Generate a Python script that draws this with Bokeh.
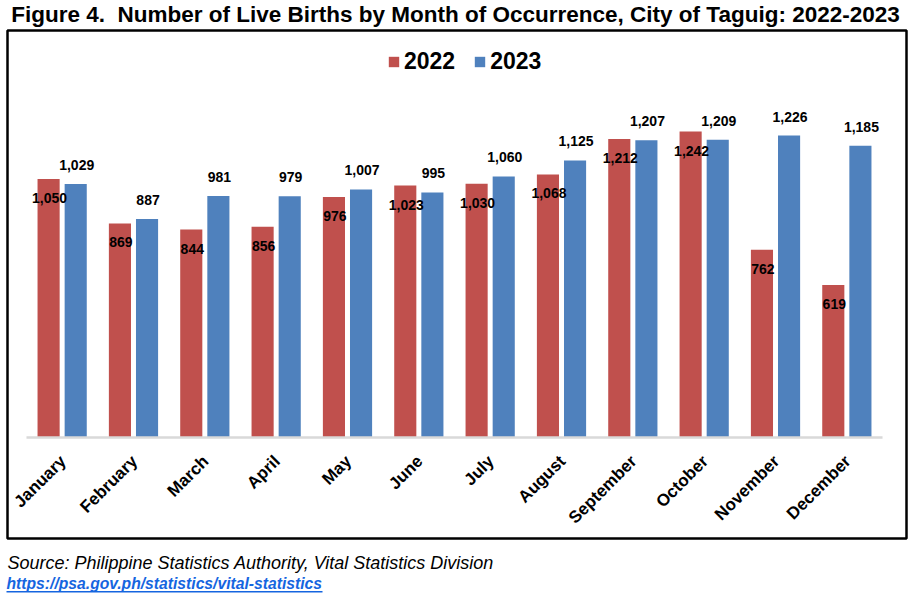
from math import pi
from bokeh.plotting import figure
from bokeh.models import (FactorRange, Range1d, ColumnDataSource, Legend, LegendItem,
                          Label, BoxAnnotation)
from bokeh.transform import dodge
from bokeh.core.properties import value
from bokeh.embed import file_html
from bokeh.resources import INLINE

# ---------------- data ----------------
months = ["January", "February", "March", "April", "May", "June", "July",
          "August", "September", "October", "November", "December"]
births_2022 = [1050, 869, 844, 856, 976, 1023, 1030, 1068, 1212, 1242, 762, 619]
births_2023 = [1029, 887, 981, 979, 1007, 995, 1060, 1125, 1207, 1209, 1226, 1185]
series_names = ["2022", "2023"]
title_text = "Figure 4.\u00a0 Number of Live Births by Month of Occurrence, City of Taguig: 2022-2023"
source_text = "Source: Philippine Statistics Authority, Vital Statistics Division"
link_text = "https://psa.gov.ph/statistics/vital-statistics"

RED = "#C0504D"
BLUE = "#4F81BD"
LINK = "#1565E0"
FONT = "Liberation Sans"

src = ColumnDataSource(dict(
    month=months,
    y2022=births_2022,
    y2023=births_2023,
    l2022=[f"{v:,}" for v in births_2022],
    l2023=[f"{v:,}" for v in births_2023],
    zero=[0] * len(months),
))

W, H = 908, 599
BASE = 437            # pixel row of the value axis zero
PX_PER_UNIT = 0.2463

p = figure(width=W, height=H,
           x_range=FactorRange(*months, range_padding=0.0607),
           y_range=Range1d(-(H - BASE) / PX_PER_UNIT, BASE / PX_PER_UNIT),
           output_backend="svg", toolbar_location=None,
           x_axis_location=None, y_axis_location=None,
           min_border=0)
p.grid.visible = False
p.outline_line_color = None
p.background_fill_color = "white"
p.border_fill_color = "white"

# chart border box
p.add_layout(BoxAnnotation(left=7, right=906, top=H - 30, bottom=H - 538,
                           left_units="screen", right_units="screen",
                           top_units="screen", bottom_units="screen",
                           fill_alpha=0, line_color="black", line_alpha=1,
                           line_width=2.5))

r22 = p.vbar(x=dodge("month", -0.19, range=p.x_range), top="y2022", width=0.31,
             source=src, fill_color=RED, line_color=None)
r23 = p.vbar(x=dodge("month", 0.19, range=p.x_range), top="y2023", width=0.31,
             source=src, fill_color=BLUE, line_color=None)

# baseline (category axis line)
base_src = ColumnDataSource(dict(x0=[months[0]], x1=[months[-1]], y=[0]))
p.segment(x0=dodge("x0", -0.5, range=p.x_range), x1=dodge("x1", 0.5, range=p.x_range),
          y0="y", y1="y", source=base_src, line_color="#D9D9D9", line_width=2.5)

# data labels
p.text(x=dodge("month", -0.19, range=p.x_range), y="y2022", text="l2022", source=src,
       text_align="center", text_baseline="middle", y_offset=19, x_offset=1,
       text_font=value(FONT), text_font_style="bold", text_font_size="14px",
       text_color="black")
p.text(x=dodge("month", 0.19, range=p.x_range), y="y2023", text="l2023", source=src,
       text_align="center", text_baseline="middle", y_offset=-19, x_offset=1,
       text_font=value(FONT), text_font_style="bold", text_font_size="14px",
       text_color="black")

# month labels (rotated)
p.text(x="month", y="zero", text="month", source=src, angle=pi / 4,
       text_align="right", text_baseline="middle", x_offset=1, y_offset=21,
       text_font=value(FONT), text_font_style="bold", text_font_size="17px",
       text_color="black")

legend = Legend(items=[LegendItem(label=series_names[0], renderers=[r22]),
                       LegendItem(label=series_names[1], renderers=[r23])],
                location=(387, H - 75), orientation="horizontal",
                border_line_color=None, background_fill_alpha=0,
                padding=0, margin=0, spacing=18, label_standoff=4,
                glyph_width=13, glyph_height=13,
                label_text_font=FONT, label_text_font_style="bold",
                label_text_font_size="23px", label_text_color="black")
p.add_layout(legend)

# title and footer
p.add_layout(Label(x=455, y=H - 14, x_units="screen", y_units="screen", text=title_text,
                   text_align="center", text_baseline="middle",
                   text_font=FONT, text_font_style="bold", text_font_size="22.5px",
                   text_color="black"))
p.add_layout(Label(x=7, y=H - 562, x_units="screen", y_units="screen", text=source_text,
                   text_align="left", text_baseline="middle",
                   text_font=FONT, text_font_style="italic", text_font_size="18px",
                   text_color="black"))
p.add_layout(Label(x=6, y=H - 583, x_units="screen", y_units="screen", text=link_text,
                   text_align="left", text_baseline="middle",
                   text_font=FONT, text_font_style="bold italic", text_font_size="15.7px",
                   text_color=LINK))
p.add_layout(BoxAnnotation(left=6, right=322, bottom=H - 592, top=H - 590.5,
                           left_units="screen", right_units="screen",
                           bottom_units="screen", top_units="screen",
                           fill_color=LINK, fill_alpha=1, line_color=None))

open("out.html", "w").write(file_html(p, INLINE))
